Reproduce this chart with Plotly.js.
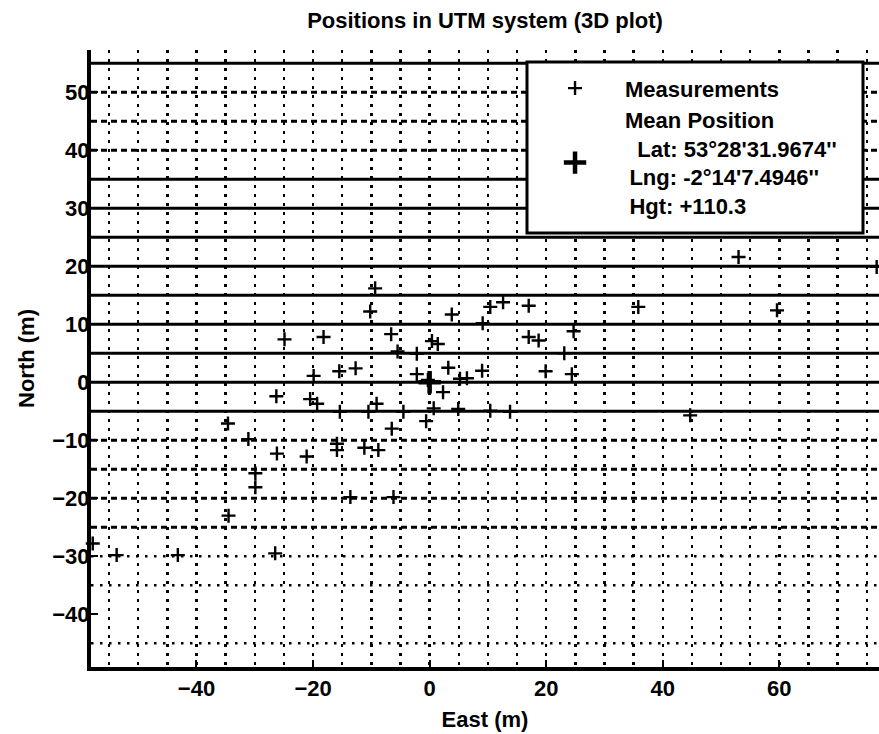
<!DOCTYPE html>
<html>
<head>
<meta charset="utf-8">
<script src="https://cdn.plot.ly/plotly-3.0.1.min.js"></script>
<style>html,body{margin:0;padding:0;background:#fff;}</style>
</head>
<body>
<div id="chart" style="width:879px;height:734px;"></div>
<script>
// ---- Data ----
const measEast = [-57.8, -53.7, -43.2, -26.5, -34.5, -29.9, -29.9, -26.2, -31.1, -34.6,
  -21.1, -13.6, -6.2, -15.9, -15.9, -11.2, -8.8, -6.5, -0.6, -20.5,
  -19.3, -15.4, -10.5, -9.1, -4.5, 0.7, 4.9, 10.4, 13.8, 44.7,
  2.3, -26.3, -19.9, -15.5, -12.7, -2.2, -0.3, 3.2, 5.2, 6.4,
  9.0, 19.9, 24.4, -24.9, -18.2, -6.6, -5.5, -2.2, 0.4, 1.4,
  -10.2, -9.35, 3.8, 9.1, 10.4, 12.6, 17.0, 17.0, 18.7, 23.1,
  24.7, 35.8, 59.6, 53.0, 76.7];
const measNorth = [-27.8, -29.8, -29.8, -29.5, -23.0, -18.1, -15.7, -12.3, -9.8, -7.1,
  -12.8, -19.8, -19.8, -10.6, -11.7, -11.3, -11.7, -8.0, -6.7, -2.9,
  -3.7, -5.1, -5.1, -3.7, -5.1, -4.5, -4.6, -4.9, -5.1, -5.7,
  -1.7, -2.4, 1.1, 1.9, 2.4, 1.4, 0.4, 2.5, 0.6, 0.7,
  2.0, 1.9, 1.4, 7.4, 7.8, 8.3, 5.3, 4.9, 7.1, 6.6,
  12.2, 16.2, 11.7, 10.2, 13.0, 13.8, 13.2, 7.8, 7.2, 5.0,
  8.8, 13.0, 12.4, 21.6, 19.9];
const meanEast = [0];
const meanNorth = [0];

const xTickVals = [-40, -20, 0, 20, 40, 60];
const yTickVals = [-40, -30, -20, -10, 0, 10, 20, 30, 40, 50];

// horizontal rows of the grid, by line style
const solidRows  = [55, 35, 30, 25, 20, 15, 10, 5, 0, -5];
const dashedRows = [50, 45, 40, -10, -15, -20, -25];
const dottedRows = [-30, -35, -45];

const titleText = 'Positions in UTM system (3D plot)';
const xTitle = 'East (m)';
const yTitle = 'North (m)';
const measName = 'Measurements';
const meanName = 'Mean Position<br>\u00a0\u00a0Lat: 53°28\'31.9674\'\'<br>\u2009Lng: -2°14\'7.4946\'\'<br>\u2009Hgt: +110.3';

// ---- Styling ----
const FONT = 'Liberation Sans, Arial, Helvetica, sans-serif';
const font22 = {family: FONT, size: 22, color: '#000', weight: 'bold'};
const DOT = '2.5px,6.5px';
const DASH = '6px,4px';

const traces = [
  {
    type: 'scatter', mode: 'markers', name: measName,
    x: measEast, y: measNorth, cliponaxis: false,
    marker: {symbol: 'cross-thin-open', size: 10, color: '#000', line: {color: '#000', width: 2.4}}
  },
  {
    type: 'scatter', mode: 'markers', name: meanName,
    x: meanEast, y: meanNorth, cliponaxis: false,
    marker: {symbol: 'cross-thin-open', size: 16, color: '#000', line: {color: '#000', width: 4.5}}
  }
];

const shapes = [];
solidRows.forEach(v => shapes.push({type: 'line', xref: 'paper', x0: 0, x1: 1, yref: 'y', y0: v, y1: v,
  layer: 'between', line: {color: '#000', width: 3}}));
dashedRows.forEach(v => shapes.push({type: 'line', xref: 'paper', x0: 0, x1: 1, yref: 'y', y0: v, y1: v,
  layer: 'between', line: {color: '#000', width: 3, dash: DASH}}));
dottedRows.forEach(v => shapes.push({type: 'line', xref: 'paper', x0: 0, x1: 1, yref: 'y', y0: v, y1: v,
  layer: 'between', line: {color: '#000', width: 2.5, dash: DOT}}));
// legend frame
shapes.push({type: 'rect', xref: 'paper', yref: 'paper', x0: 0.5533, x1: 0.9797, y0: 0.7034, y1: 0.9805,
  layer: 'above', fillcolor: '#fff', line: {color: '#000', width: 3}});

const layout = {
  width: 879, height: 734, autosize: false,
  paper_bgcolor: '#fff', plot_bgcolor: '#fff',
  margin: {l: 91, r: 0, t: 50, b: 67, pad: 0},
  font: font22,
  title: {text: titleText, font: font22, x: 0.5, xref: 'paper', y: 0.973, yref: 'container', yanchor: 'middle'},
  showlegend: true,
  legend: {
    x: 0.5508, xanchor: 'left', y: 0.972, yanchor: 'top',
    bgcolor: 'rgba(0,0,0,0)', borderwidth: 0, itemwidth: 90,
    font: font22, tracegroupgap: 0, valign: 'middle'
  },
  xaxis: {
    range: [-58.1, 77.1], tickmode: 'array', tickvals: xTickVals,
    ticks: 'inside', ticklen: 7, tickwidth: 2, tickcolor: '#000',
    tickfont: font22,
    showgrid: true, gridcolor: '#000', gridwidth: 2.5, griddash: DOT,
    minor: {dtick: 5, tick0: 0, showgrid: true, gridcolor: '#000', gridwidth: 2.5, griddash: DOT, ticks: ''},
    showline: true, linecolor: '#000', linewidth: 4, mirror: false, zeroline: false,
    ticklabelstandoff: -1,
    title: {text: xTitle, font: font22, standoff: 12}
  },
  yaxis: {
    range: [-49.1, 57.3], tickmode: 'array', tickvals: yTickVals,
    ticks: 'inside', ticklen: 7, tickwidth: 2, tickcolor: '#000',
    tickfont: font22,
    showgrid: false,
    showline: true, linecolor: '#000', linewidth: 4, mirror: false, zeroline: false,
    ticklabelstandoff: -7,
    title: {text: yTitle, font: font22, standoff: 13}
  },
  shapes: shapes
};

Plotly.newPlot('chart', traces, layout, {displayModeBar: false, staticPlot: true});
</script>
</body>
</html>
